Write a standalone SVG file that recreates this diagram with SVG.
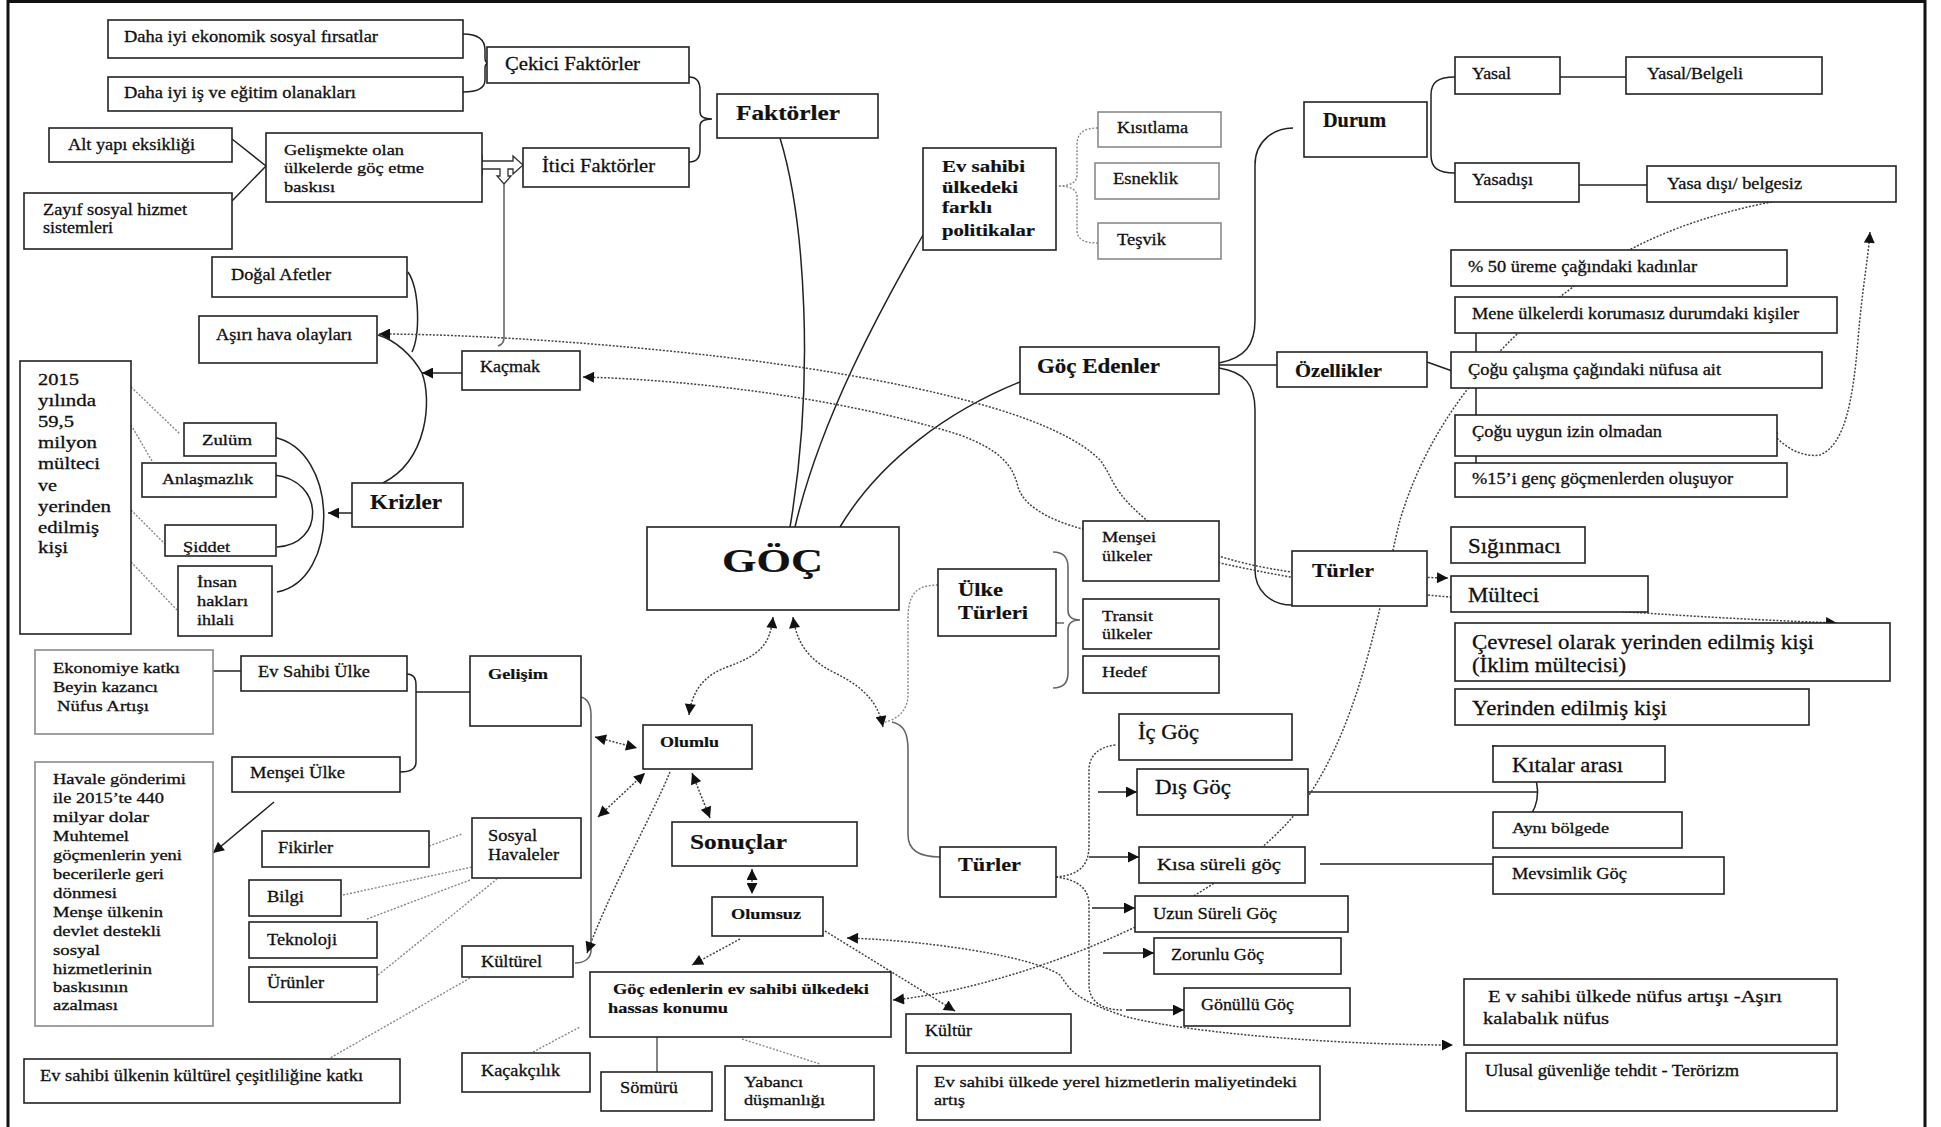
<svg xmlns="http://www.w3.org/2000/svg" width="1941" height="1127" viewBox="0 0 1941 1127">
<style>
.bx{fill:#fff;stroke:#222;stroke-width:1.6}
.gb{fill:#fff;stroke:#8a8a8a;stroke-width:1.6}
.t{font-family:"Liberation Serif","Times New Roman",serif;fill:#111;stroke:#111;stroke-width:0.3}
.b{font-weight:bold;stroke-width:0.2}
.ln{fill:none;stroke:#222;stroke-width:1.5}
.gl{fill:none;stroke:#666;stroke-width:1.6}
.dt{fill:none;stroke:#444;stroke-width:1.5;stroke-dasharray:2 1.6}
.ga{fill:none;stroke:#888;stroke-width:1.4;stroke-dasharray:2 1.6}
.ar{marker-end:url(#ah)}
.da{marker-start:url(#ah);marker-end:url(#ah)}
</style>
<defs>
<marker id="ah" viewBox="0 0 10 10" refX="10" refY="5" markerWidth="13" markerHeight="11" markerUnits="userSpaceOnUse" orient="auto-start-reverse"><path d="M0,0 L10,5 L0,10 z" fill="#111"/></marker>
<clipPath id="csid"><rect x="165" y="525" width="111" height="30"/></clipPath>
</defs>
<rect x="8" y="1.5" width="1917" height="1140" fill="#fff" stroke="#111" stroke-width="3"/>

<g id="connectors">
<path class="ln" d="M463,34 Q485,34 485,50 L485,58 Q485,63 489,63 Q485,63 485,68 L485,80 Q485,92 463,92"/>
<path class="ln" d="M689,77 Q700,77 700,90 L700,112 Q700,119 712,119 Q700,119 700,126 L700,150 Q700,162 689,162"/>
<path class="ln" d="M232,139 L266,166 M232,201 L266,166"/>
<polygon points="472,165 482,156 482,161 513,161 513,156 523,165 513,174 513,169 508,169 508,176 511,176 504,184 497,176 500,176 500,169 482,169 482,174" fill="#fff" stroke="#333" stroke-width="1.3"/>
<path class="gl" d="M504,184 L504,338 Q504,344 498,346"/>
<path class="ln" d="M780,138 C805,220 815,380 790,527"/>
<path class="ln" d="M923,235 C880,310 820,420 795,527"/>
<path class="ln" d="M840,527 C880,460 950,410 1020,382"/>
<path class="ln" d="M1219,363 C1245,358 1255,345 1255,320 L1255,165 C1255,140 1275,128 1293,128"/>
<path class="ln" d="M1219,365 L1277,365"/>
<path class="ln" d="M1219,368 C1245,372 1255,385 1255,410 L1255,570 C1255,590 1270,605 1292,605"/>
<path class="ln" d="M1427,362 L1455,372"/>
<path class="ln" d="M1455,317 C1470,317 1476,322 1476,335 L1476,470 C1476,482 1468,487 1455,487"/>
<path class="ln" d="M1455,77 C1438,77 1431,82 1431,95 L1431,155 C1431,168 1438,173 1455,173"/>
<path class="ln" d="M1560,77 L1626,77 M1579,185 L1647,185"/>
<path class="ln ar" d="M352,513 L328,513"/>
<path class="ln" d="M273,437 C340,450 340,580 277,592"/>
<path class="ln" d="M274,475 C325,480 325,545 277,547"/>
<path class="ln" d="M408,272 C420,290 420,335 412,352"/>
<path class="ln" d="M378,335 C395,340 412,355 422,373"/>
<path class="ln" d="M422,373 C432,400 428,460 383,483"/>
<path class="ln ar" d="M462,373 L422,373"/>
<path class="ln" d="M407,674 C413,674 416,678 416,685 L416,762 C416,768 412,772 400,772 M416,692 L470,692"/>
<path class="ln" d="M213,671 L241,671"/>
<path class="ln ar" d="M274,802 L213,853"/>
<path class="gl" stroke-width="2.2" d="M581,697 C588,699 591,705 591,715 L591,950 C591,958 585,963 575,963"/>
<path class="gl" d="M657,1037 L657,1072"/>
<path class="ln ar" d="M1098,792 L1137,792"/>
<path class="ln ar" d="M1089,857 L1139,857"/>
<path class="ln ar" d="M1092,908 L1135,908"/>
<path class="ln ar" d="M1103,953 L1154,953"/>
<path class="ln ar" d="M1126,1010 L1184,1010"/>
<path class="ln" d="M1308,792 L1538,792"/>
<path class="ln" d="M1492,746 C1550,750 1555,830 1493,835"/>
<path class="ln" d="M1320,864 L1493,864"/>
<path class="gl" d="M1053,552 Q1068,552 1068,567 L1068,610 Q1068,620 1080,620 Q1068,620 1068,630 L1068,673 Q1068,688 1053,688 M1056,623 L1064,623"/>
<path class="gl" stroke-width="1.2" d="M892,722 C905,725 908,735 908,750 L908,835 C908,850 920,857 940,857"/>

<path class="ga" d="M1098,128 C1085,128 1077,132 1077,145 L1077,175 Q1077,186 1058,186 Q1077,186 1077,197 L1077,230 C1077,240 1085,243 1098,243"/>
<path class="ga" d="M131,387 L180,434 M131,425 L152,461 M131,510 L165,544 M131,562 L177,610"/>
<path class="dt da" d="M379,334 C500,334 700,350 830,372 C950,392 1060,420 1100,460 C1115,480 1110,490 1150,523 C1200,560 1280,572 1320,575 L1448,578"/>
<path class="dt da" d="M583,377 C700,380 850,400 960,435 C1000,450 1013,465 1018,487 C1025,510 1060,525 1100,533 C1200,560 1300,585 1450,597 C1600,612 1750,620 1837,623"/>
<path class="dt da" d="M893,1000 C1000,990 1200,920 1290,820 C1360,740 1380,600 1400,520 C1430,420 1500,330 1620,255 C1700,210 1800,192 1888,189"/>
<path class="dt da" d="M1768,427 C1780,445 1800,458 1820,455 C1845,445 1853,400 1858,340 C1862,290 1868,260 1870,232"/>
<path class="dt da" d="M773,617 C770,645 760,655 727,667 C705,675 692,690 689,715"/>
<path class="dt da" d="M793,617 C797,645 810,660 833,672 C860,685 878,700 883,727"/>
<path class="ga" d="M938,585 C915,585 908,595 908,620 L908,695 C908,712 895,720 885,722"/>
<path class="dt da" d="M692,773 L710,818"/>
<path class="dt da" d="M752,869 L752,894"/>
<path class="dt da" d="M595,737 L637,748"/>
<path class="dt da" d="M598,817 L645,773"/>
<path class="dt ar" d="M670,772 C650,820 610,890 587,953"/>
<path class="dt ar" d="M740,939 L692,965"/>
<path class="dt ar" d="M825,931 L955,1011"/>
<path class="dt da" d="M847,938 C920,940 1030,955 1060,975 C1070,990 1075,1000 1127,1017 C1200,1035 1350,1045 1453,1045"/>
<path class="ga" d="M429,846 L462,834 M343,895 L472,867 M367,919 L470,880 M378,975 L497,879"/>
<path class="ga" d="M470,978 L330,1058"/>
<path class="ga" d="M533,1052 L580,1027 M742,1039 L820,1064"/>
<path class="dt" d="M1056,877 C1080,875 1089,865 1089,845 L1089,770 C1089,755 1100,746 1117,745"/>
<path class="dt" d="M1056,877 C1080,880 1089,890 1089,905 L1089,985 C1089,1000 1100,1010 1123,1010"/>
</g>

<g id="daha1"><rect class="bx" x="108" y="20" width="355" height="38"/><text class="t" x="124" y="42" font-size="16" textLength="254" lengthAdjust="spacingAndGlyphs">Daha iyi ekonomik sosyal fırsatlar</text></g>
<g id="daha2"><rect class="bx" x="108" y="77" width="355" height="34"/><text class="t" x="124" y="98" font-size="16" textLength="232" lengthAdjust="spacingAndGlyphs">Daha iyi iş ve eğitim olanakları</text></g>
<g id="cekici"><rect class="bx" x="487" y="47" width="202" height="36"/><text class="t" x="505" y="70" font-size="19" textLength="135" lengthAdjust="spacingAndGlyphs">Çekici Faktörler</text></g>
<g id="faktorler"><rect class="bx" x="717" y="94" width="161" height="44"/><text class="t b" x="736" y="120" font-size="21" textLength="104" lengthAdjust="spacingAndGlyphs">Faktörler</text></g>
<g id="itici"><rect class="bx" x="523" y="148" width="166" height="39"/><text class="t" x="542" y="172" font-size="19" textLength="113" lengthAdjust="spacingAndGlyphs">İtici Faktörler</text></g>
<g id="altyapi"><rect class="bx" x="49" y="128" width="183" height="34"/><text class="t" x="68" y="150" font-size="16" textLength="127" lengthAdjust="spacingAndGlyphs">Alt yapı eksikliği</text></g>
<g id="gelismekte"><rect class="bx" x="266" y="133" width="216" height="69"/><text class="t" font-size="15"><tspan x="284" y="155" textLength="120" lengthAdjust="spacingAndGlyphs">Gelişmekte olan</tspan><tspan x="284" y="173" textLength="140" lengthAdjust="spacingAndGlyphs">ülkelerde göç etme</tspan><tspan x="284" y="192" textLength="51" lengthAdjust="spacingAndGlyphs">baskısı</tspan></text></g>
<g id="zayif"><rect class="bx" x="24" y="193" width="208" height="56"/><text class="t" font-size="16"><tspan x="43" y="215" textLength="144" lengthAdjust="spacingAndGlyphs">Zayıf sosyal hizmet</tspan><tspan x="43" y="233" textLength="70" lengthAdjust="spacingAndGlyphs">sistemleri</tspan></text></g>
<g id="dogal"><rect class="bx" x="212" y="257" width="195" height="40"/><text class="t" x="231" y="280" font-size="16" textLength="100" lengthAdjust="spacingAndGlyphs">Doğal Afetler</text></g>
<g id="asiri"><rect class="bx" x="199" y="316" width="178" height="47"/><text class="t" x="216" y="340" font-size="16" textLength="136" lengthAdjust="spacingAndGlyphs">Aşırı hava olayları</text></g>
<g id="kacmak"><rect class="bx" x="462" y="351" width="118" height="39"/><text class="t" x="480" y="372" font-size="16" textLength="60" lengthAdjust="spacingAndGlyphs">Kaçmak</text></g>
<g id="politikalar"><rect class="bx" x="923" y="148" width="133" height="102"/><text class="t b" font-size="17"><tspan x="942" y="172" textLength="83" lengthAdjust="spacingAndGlyphs">Ev sahibi</tspan><tspan x="942" y="193" textLength="76" lengthAdjust="spacingAndGlyphs">ülkedeki</tspan><tspan x="942" y="213" textLength="50" lengthAdjust="spacingAndGlyphs">farklı</tspan><tspan x="942" y="236" textLength="93" lengthAdjust="spacingAndGlyphs">politikalar</tspan></text></g>
<g id="kisitlama"><rect class="gb" x="1098" y="112" width="123" height="35"/><text class="t" x="1117" y="133" font-size="16" textLength="71" lengthAdjust="spacingAndGlyphs">Kısıtlama</text></g>
<g id="esneklik"><rect class="gb" x="1095" y="163" width="124" height="36"/><text class="t" x="1113" y="184" font-size="16" textLength="65" lengthAdjust="spacingAndGlyphs">Esneklik</text></g>
<g id="tesvik"><rect class="gb" x="1098" y="223" width="123" height="36"/><text class="t" x="1117" y="245" font-size="16" textLength="49" lengthAdjust="spacingAndGlyphs">Teşvik</text></g>
<g id="durum"><rect class="bx" x="1304" y="102" width="123" height="55"/><text class="t b" x="1323" y="127" font-size="20" textLength="63" lengthAdjust="spacingAndGlyphs">Durum</text></g>
<g id="gocedenler"><rect class="bx" x="1020" y="347" width="199" height="47"/><text class="t b" x="1037" y="373" font-size="21" textLength="123" lengthAdjust="spacingAndGlyphs">Göç Edenler</text></g>
<g id="ozellikler"><rect class="bx" x="1277" y="352" width="150" height="35"/><text class="t b" x="1295" y="377" font-size="19" textLength="87" lengthAdjust="spacingAndGlyphs">Özellikler</text></g>
<g id="yasal"><rect class="bx" x="1455" y="57" width="105" height="37"/><text class="t" x="1472" y="79" font-size="16" textLength="39" lengthAdjust="spacingAndGlyphs">Yasal</text></g>
<g id="yasalbelgeli"><rect class="bx" x="1626" y="57" width="196" height="37"/><text class="t" x="1647" y="79" font-size="16" textLength="96" lengthAdjust="spacingAndGlyphs">Yasal/Belgeli</text></g>
<g id="yasadisi"><rect class="bx" x="1455" y="163" width="124" height="39"/><text class="t" x="1472" y="185" font-size="16" textLength="61" lengthAdjust="spacingAndGlyphs">Yasadışı</text></g>
<g id="belgesiz"><rect class="bx" x="1647" y="166" width="249" height="36"/><text class="t" x="1667" y="189" font-size="16" textLength="135" lengthAdjust="spacingAndGlyphs">Yasa dışı/ belgesiz</text></g>
<g id="ozl1"><rect class="bx" x="1451" y="250" width="336" height="36"/><text class="t" x="1468" y="272" font-size="16" textLength="229" lengthAdjust="spacingAndGlyphs">% 50 üreme çağındaki kadınlar</text></g>
<g id="ozl2"><rect class="bx" x="1455" y="297" width="382" height="36"/><text class="t" x="1472" y="319" font-size="16" textLength="327" lengthAdjust="spacingAndGlyphs">Mene ülkelerdi korumasız durumdaki kişiler</text></g>
<g id="ozl3"><rect class="bx" x="1451" y="352" width="371" height="36"/><text class="t" x="1468" y="375" font-size="16" textLength="253" lengthAdjust="spacingAndGlyphs">Çoğu çalışma çağındaki nüfusa ait</text></g>
<g id="ozl4"><rect class="bx" x="1455" y="415" width="322" height="41"/><text class="t" x="1472" y="437" font-size="16" textLength="190" lengthAdjust="spacingAndGlyphs">Çoğu uygun izin olmadan</text></g>
<g id="ozl5"><rect class="bx" x="1455" y="463" width="332" height="34"/><text class="t" x="1472" y="484" font-size="16" textLength="261" lengthAdjust="spacingAndGlyphs">%15’i genç göçmenlerden oluşuyor</text></g>
<g id="siginmaci"><rect class="bx" x="1451" y="527" width="134" height="36"/><text class="t" x="1468" y="553" font-size="21" textLength="93" lengthAdjust="spacingAndGlyphs">Sığınmacı</text></g>
<g id="multeci"><rect class="bx" x="1451" y="576" width="197" height="36"/><text class="t" x="1468" y="602" font-size="21" textLength="71" lengthAdjust="spacingAndGlyphs">Mülteci</text></g>
<g id="cevresel"><rect class="bx" x="1455" y="623" width="435" height="58"/><text class="t" font-size="21"><tspan x="1472" y="649" textLength="342" lengthAdjust="spacingAndGlyphs">Çevresel olarak yerinden edilmiş kişi</tspan><tspan x="1472" y="672" textLength="154" lengthAdjust="spacingAndGlyphs">(İklim mültecisi)</tspan></text></g>
<g id="yerinden"><rect class="bx" x="1455" y="689" width="354" height="36"/><text class="t" x="1472" y="715" font-size="21" textLength="195" lengthAdjust="spacingAndGlyphs">Yerinden edilmiş kişi</text></g>
<g id="turler-r"><rect class="bx" x="1292" y="551" width="135" height="55"/><text class="t b" x="1312" y="577" font-size="19" textLength="62" lengthAdjust="spacingAndGlyphs">Türler</text></g>
<g id="goc"><rect class="bx" x="647" y="527" width="252" height="83"/><text class="t b" x="722" y="572" font-size="34" textLength="101" lengthAdjust="spacingAndGlyphs">GÖÇ</text></g>
<g id="ulketurleri"><rect class="bx" x="938" y="569" width="118" height="67"/><text class="t b" font-size="19"><tspan x="958" y="596" textLength="45" lengthAdjust="spacingAndGlyphs">Ülke</tspan><tspan x="958" y="619" textLength="70" lengthAdjust="spacingAndGlyphs">Türleri</tspan></text></g>
<g id="mensei"><rect class="bx" x="1083" y="521" width="136" height="60"/><text class="t" font-size="15"><tspan x="1102" y="542" textLength="54" lengthAdjust="spacingAndGlyphs">Menşei</tspan><tspan x="1102" y="561" textLength="50" lengthAdjust="spacingAndGlyphs">ülkeler</tspan></text></g>
<g id="transit"><rect class="bx" x="1083" y="599" width="136" height="50"/><text class="t" font-size="15"><tspan x="1102" y="621" textLength="51" lengthAdjust="spacingAndGlyphs">Transit</tspan><tspan x="1102" y="639" textLength="50" lengthAdjust="spacingAndGlyphs">ülkeler</tspan></text></g>
<g id="hedef"><rect class="bx" x="1083" y="656" width="136" height="37"/><text class="t" x="1102" y="677" font-size="15" textLength="45" lengthAdjust="spacingAndGlyphs">Hedef</text></g>
<g id="icgoc"><rect class="bx" x="1119" y="714" width="173" height="46"/><text class="t" x="1138" y="739" font-size="20" textLength="61" lengthAdjust="spacingAndGlyphs">İç Göç</text></g>
<g id="disgoc"><rect class="bx" x="1137" y="769" width="171" height="46"/><text class="t" x="1155" y="794" font-size="20" textLength="76" lengthAdjust="spacingAndGlyphs">Dış Göç</text></g>
<g id="kisa"><rect class="bx" x="1139" y="847" width="166" height="36"/><text class="t" x="1157" y="870" font-size="17" textLength="124" lengthAdjust="spacingAndGlyphs">Kısa süreli göç</text></g>
<g id="uzun"><rect class="bx" x="1135" y="896" width="213" height="36"/><text class="t" x="1153" y="919" font-size="16" textLength="124" lengthAdjust="spacingAndGlyphs">Uzun Süreli Göç</text></g>
<g id="zorunlu"><rect class="bx" x="1154" y="938" width="187" height="36"/><text class="t" x="1171" y="960" font-size="16" textLength="93" lengthAdjust="spacingAndGlyphs">Zorunlu Göç</text></g>
<g id="gonullu"><rect class="bx" x="1184" y="988" width="166" height="38"/><text class="t" x="1201" y="1010" font-size="16" textLength="93" lengthAdjust="spacingAndGlyphs">Gönüllü Göç</text></g>
<g id="turler-l"><rect class="bx" x="940" y="847" width="116" height="50"/><text class="t b" x="958" y="871" font-size="19" textLength="63" lengthAdjust="spacingAndGlyphs">Türler</text></g>
<g id="kitalar"><rect class="bx" x="1493" y="746" width="172" height="36"/><text class="t" x="1512" y="772" font-size="20" textLength="111" lengthAdjust="spacingAndGlyphs">Kıtalar arası</text></g>
<g id="ayni"><rect class="bx" x="1493" y="812" width="189" height="36"/><text class="t" x="1512" y="833" font-size="15" textLength="97" lengthAdjust="spacingAndGlyphs">Aynı bölgede</text></g>
<g id="mevsimlik"><rect class="bx" x="1493" y="857" width="231" height="37"/><text class="t" x="1512" y="879" font-size="16" textLength="115" lengthAdjust="spacingAndGlyphs">Mevsimlik Göç</text></g>
<g id="evnufus"><rect class="bx" x="1464" y="979" width="373" height="66"/><text class="t" font-size="17"><tspan x="1488" y="1002" textLength="294" lengthAdjust="spacingAndGlyphs">E v sahibi ülkede nüfus artışı -Aşırı</tspan><tspan x="1483" y="1024" textLength="126" lengthAdjust="spacingAndGlyphs">kalabalık nüfus</tspan></text></g>
<g id="ulusal"><rect class="bx" x="1466" y="1053" width="371" height="58"/><text class="t" x="1485" y="1076" font-size="16" textLength="254" lengthAdjust="spacingAndGlyphs">Ulusal güvenliğe tehdit - Terörizm</text></g>
<g id="y2015"><rect class="bx" x="20" y="361" width="111" height="273"/><text class="t" font-size="17"><tspan x="38" y="385" textLength="41" lengthAdjust="spacingAndGlyphs">2015</tspan><tspan x="38" y="406" textLength="58" lengthAdjust="spacingAndGlyphs">yılında</tspan><tspan x="38" y="427" textLength="36" lengthAdjust="spacingAndGlyphs">59,5</tspan><tspan x="38" y="448" textLength="59" lengthAdjust="spacingAndGlyphs">milyon</tspan><tspan x="38" y="469" textLength="62" lengthAdjust="spacingAndGlyphs">mülteci</tspan><tspan x="38" y="491" textLength="19" lengthAdjust="spacingAndGlyphs">ve</tspan><tspan x="38" y="512" textLength="73" lengthAdjust="spacingAndGlyphs">yerinden</tspan><tspan x="38" y="533" textLength="61" lengthAdjust="spacingAndGlyphs">edilmiş</tspan><tspan x="38" y="553" textLength="30" lengthAdjust="spacingAndGlyphs">kişi</tspan></text></g>
<g id="zulum"><rect class="bx" x="184" y="423" width="92" height="33"/><text class="t" x="202" y="445" font-size="15" textLength="50" lengthAdjust="spacingAndGlyphs">Zulüm</text></g>
<g id="anlasmazlik"><rect class="bx" x="142" y="463" width="134" height="34"/><text class="t" x="162" y="484" font-size="15" textLength="91" lengthAdjust="spacingAndGlyphs">Anlaşmazlık</text></g>
<g id="siddet"><rect class="bx" x="165" y="525" width="111" height="31"/><text class="t" x="183" y="552" font-size="15" textLength="47" lengthAdjust="spacingAndGlyphs" clip-path="url(#csid)">Şiddet</text></g>
<g id="insan"><rect class="bx" x="178" y="566" width="94" height="70"/><text class="t" font-size="15"><tspan x="197" y="587" textLength="40" lengthAdjust="spacingAndGlyphs">İnsan</tspan><tspan x="197" y="606" textLength="51" lengthAdjust="spacingAndGlyphs">hakları</tspan><tspan x="197" y="625" textLength="37" lengthAdjust="spacingAndGlyphs">ihlali</tspan></text></g>
<g id="krizler"><rect class="bx" x="352" y="483" width="111" height="44"/><text class="t b" x="370" y="509" font-size="21" textLength="72" lengthAdjust="spacingAndGlyphs">Krizler</text></g>
<g id="ekonomiye"><rect class="gb" x="35" y="650" width="178" height="84"/><text class="t" font-size="15"><tspan x="53" y="673" textLength="127" lengthAdjust="spacingAndGlyphs">Ekonomiye katkı</tspan><tspan x="53" y="692" textLength="105" lengthAdjust="spacingAndGlyphs">Beyin kazancı</tspan><tspan x="57" y="711" textLength="92" lengthAdjust="spacingAndGlyphs">Nüfus Artışı</tspan></text></g>
<g id="evsahibiulke"><rect class="bx" x="241" y="656" width="166" height="35"/><text class="t" x="258" y="677" font-size="16" textLength="112" lengthAdjust="spacingAndGlyphs">Ev Sahibi Ülke</text></g>
<g id="menseiulke"><rect class="bx" x="232" y="757" width="168" height="35"/><text class="t" x="250" y="778" font-size="16" textLength="95" lengthAdjust="spacingAndGlyphs">Menşei Ülke</text></g>
<g id="havale"><rect class="gb" x="35" y="762" width="178" height="264"/><text class="t" font-size="15"><tspan x="53" y="784" textLength="133" lengthAdjust="spacingAndGlyphs">Havale gönderimi</tspan><tspan x="53" y="803" textLength="111" lengthAdjust="spacingAndGlyphs">ile 2015’te 440</tspan><tspan x="53" y="822" textLength="96" lengthAdjust="spacingAndGlyphs">milyar  dolar</tspan><tspan x="53" y="841" textLength="76" lengthAdjust="spacingAndGlyphs">Muhtemel</tspan><tspan x="53" y="860" textLength="129" lengthAdjust="spacingAndGlyphs">göçmenlerin yeni</tspan><tspan x="53" y="879" textLength="111" lengthAdjust="spacingAndGlyphs">becerilerle geri</tspan><tspan x="53" y="898" textLength="64" lengthAdjust="spacingAndGlyphs">dönmesi</tspan><tspan x="53" y="917" textLength="110" lengthAdjust="spacingAndGlyphs">Menşe ülkenin</tspan><tspan x="53" y="936" textLength="108" lengthAdjust="spacingAndGlyphs">devlet destekli</tspan><tspan x="53" y="955" textLength="47" lengthAdjust="spacingAndGlyphs">sosyal</tspan><tspan x="53" y="974" textLength="99" lengthAdjust="spacingAndGlyphs">hizmetlerinin</tspan><tspan x="53" y="992" textLength="75" lengthAdjust="spacingAndGlyphs">baskısının</tspan><tspan x="53" y="1010" textLength="65" lengthAdjust="spacingAndGlyphs">azalması</tspan></text></g>
<g id="gelisim"><rect class="bx" x="470" y="656" width="111" height="70"/><text class="t b" x="488" y="679" font-size="15" textLength="60" lengthAdjust="spacingAndGlyphs">Gelişim</text></g>
<g id="olumlu"><rect class="bx" x="643" y="725" width="109" height="44"/><text class="t b" x="660" y="747" font-size="15" textLength="59" lengthAdjust="spacingAndGlyphs">Olumlu</text></g>
<g id="sonuclar"><rect class="bx" x="672" y="822" width="185" height="44"/><text class="t b" x="690" y="849" font-size="21" textLength="97" lengthAdjust="spacingAndGlyphs">Sonuçlar</text></g>
<g id="olumsuz"><rect class="bx" x="712" y="897" width="111" height="39"/><text class="t b" x="731" y="919" font-size="15" textLength="70" lengthAdjust="spacingAndGlyphs">Olumsuz</text></g>
<g id="fikirler"><rect class="bx" x="262" y="831" width="167" height="36"/><text class="t" x="278" y="853" font-size="16" textLength="55" lengthAdjust="spacingAndGlyphs">Fikirler</text></g>
<g id="bilgi"><rect class="bx" x="249" y="880" width="92" height="36"/><text class="t" x="267" y="902" font-size="16" textLength="37" lengthAdjust="spacingAndGlyphs">Bilgi</text></g>
<g id="teknoloji"><rect class="bx" x="249" y="922" width="128" height="36"/><text class="t" x="267" y="945" font-size="16" textLength="70" lengthAdjust="spacingAndGlyphs">Teknoloji</text></g>
<g id="urunler"><rect class="bx" x="249" y="967" width="128" height="35"/><text class="t" x="267" y="988" font-size="16" textLength="57" lengthAdjust="spacingAndGlyphs">Ürünler</text></g>
<g id="sosyal"><rect class="bx" x="472" y="818" width="109" height="60"/><text class="t" font-size="16"><tspan x="488" y="841" textLength="49" lengthAdjust="spacingAndGlyphs">Sosyal</tspan><tspan x="488" y="860" textLength="71" lengthAdjust="spacingAndGlyphs">Havaleler</tspan></text></g>
<g id="kulturel"><rect class="bx" x="462" y="946" width="111" height="31"/><text class="t" x="481" y="967" font-size="16" textLength="61" lengthAdjust="spacingAndGlyphs">Kültürel</text></g>
<g id="evkultur"><rect class="bx" x="24" y="1059" width="376" height="44"/><text class="t" x="40" y="1081" font-size="16" textLength="323" lengthAdjust="spacingAndGlyphs">Ev sahibi ülkenin kültürel çeşitliliğine katkı</text></g>
<g id="hassas"><rect class="bx" x="590" y="972" width="301" height="65"/><text class="t b" font-size="15"><tspan x="613" y="994" textLength="256" lengthAdjust="spacingAndGlyphs">Göç edenlerin ev sahibi ülkedeki</tspan><tspan x="608" y="1013" textLength="120" lengthAdjust="spacingAndGlyphs">hassas konumu</tspan></text></g>
<g id="kacakcilik"><rect class="bx" x="462" y="1053" width="128" height="39"/><text class="t" x="481" y="1076" font-size="16" textLength="79" lengthAdjust="spacingAndGlyphs">Kaçakçılık</text></g>
<g id="somuru"><rect class="bx" x="601" y="1072" width="111" height="39"/><text class="t" x="620" y="1093" font-size="16" textLength="58" lengthAdjust="spacingAndGlyphs">Sömürü</text></g>
<g id="yabanci"><rect class="bx" x="725" y="1066" width="149" height="54"/><text class="t" font-size="15"><tspan x="744" y="1087" textLength="59" lengthAdjust="spacingAndGlyphs">Yabancı</tspan><tspan x="744" y="1105" textLength="81" lengthAdjust="spacingAndGlyphs">düşmanlığı</tspan></text></g>
<g id="kultur"><rect class="bx" x="906" y="1014" width="165" height="39"/><text class="t" x="925" y="1036" font-size="16" textLength="47" lengthAdjust="spacingAndGlyphs">Kültür</text></g>
<g id="evyerel"><rect class="bx" x="917" y="1066" width="403" height="54"/><text class="t" font-size="15"><tspan x="934" y="1087" textLength="363" lengthAdjust="spacingAndGlyphs">Ev sahibi ülkede  yerel hizmetlerin maliyetindeki</tspan><tspan x="934" y="1105" textLength="31" lengthAdjust="spacingAndGlyphs">artış</tspan></text></g>
</svg>
